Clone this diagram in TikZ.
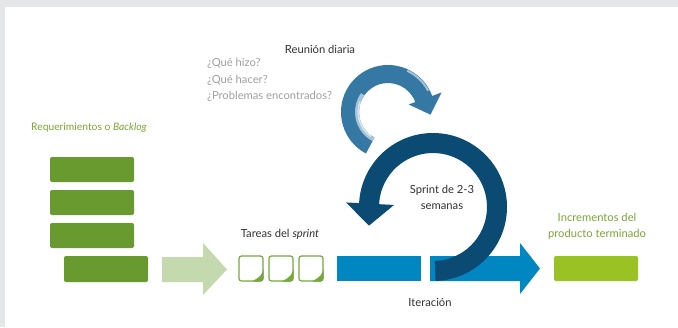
\documentclass[tikz,border=0pt]{standalone}
\usepackage{fontspec}
\setmainfont{Lato}
\usetikzlibrary{calc}
\definecolor{bordergray}{RGB}{229,230,232}
\definecolor{backloggreen}{RGB}{104,154,48}
\definecolor{labelgreen}{RGB}{122,166,52}
\definecolor{palegreen}{RGB}{197,217,174}
\definecolor{notegreen}{RGB}{118,168,62}
\definecolor{sprintblue}{RGB}{0,134,193}
\definecolor{navy}{RGB}{11,74,115}
\definecolor{dailyblue}{RGB}{52,120,163}
\definecolor{dailylight}{RGB}{165,196,218}
\definecolor{lime}{RGB}{155,194,36}
\definecolor{textgray}{RGB}{50,50,50}
\definecolor{askgray}{RGB}{160,160,160}
\begin{document}
\begin{tikzpicture}[line cap=round,line join=round,x=1pt,y=-1pt,
	lbl/.style={text=textgray,font=\fontsize{11.2}{16}\selectfont,inner sep=0pt,align=center},
	ask/.style={text=askgray,font=\fontsize{11.2}{16}\selectfont,inner sep=0pt,anchor=west},
	greenlbl/.style={text=labelgreen,font=\fontsize{11.2}{16}\selectfont,inner sep=0pt,align=center},
	task/.style={fill=backloggreen,rounded corners=2pt},
	note/.style={draw=notegreen,line width=1.2pt,fill=white,rounded corners=2.5pt}]
		\useasboundingbox (0,0) rectangle (678,327);
		\fill[bordergray] (0,0) rectangle (678,327);
		\fill[white] (5,7) rectangle (678,327);
		% backlog
		\foreach \y in {157,190,223}
			\fill[task] (50,\y) rectangle ++(84,25);
		\fill[task] (64,256) rectangle (148,282);
		\fill[palegreen] (162,257) -- (203,257) -- (203,243) -- (227,269.5) -- (203,295) -- (203,282) -- (162,282) -- cycle;
		% tareas
		\foreach \x in {239,269,299} {
			\draw[note] (\x,256) rectangle ++(24,25);
			\fill[notegreen] (\x+24.6,269) .. controls (\x+22,276) .. (\x+13,281.6) -- (\x+22,281.6) -- (\x+24.6,279) -- cycle;
		}
		\fill[sprintblue] (337,256) rectangle (421,281);
		\fill[sprintblue] (430,256) -- (520,256) -- (520,243) -- (540,268.5) -- (520,294) -- (520,281) -- (430,281) -- cycle;
		\fill[lime,rounded corners=2pt] (554,256) rectangle (638,281);
		% reunion diaria
		\coordinate (daily) at (388,112);
		\fill[dailyblue] ($(daily)+(118:47)$) arc[start angle=118,end angle=340,radius=47]
			-- ($(daily)+(340:57)$) -- ($(daily)+(340:39)+(70:17)$) -- ($(daily)+(340:22)$)
			-- ($(daily)+(340:29)$) arc[start angle=340,end angle=118,radius=29] -- cycle;
		\draw[dailylight,line width=4pt,line cap=butt] ($(daily)+(118:31)$) arc[start angle=118,end angle=215,radius=31];
		\draw[white!60!dailylight,line width=1.5pt,line cap=butt] ($(daily)+(125:29.8)$) arc[start angle=125,end angle=200,radius=29.8];
		\draw[dailylight,line width=2pt,line cap=butt] ($(daily)+(295:45.5)$) arc[start angle=295,end angle=332,radius=45.5];
		% sprint
		\coordinate (sprint) at (433,207);
		\fill[navy] ($(sprint)+(88:74)$) arc[start angle=88,end angle=-177,radius=74]
			-- ($(sprint)+(-177:87)$) -- ($(sprint)+(-177:63)+(-267:22)$) -- ($(sprint)+(-177:39)$)
			-- ($(sprint)+(-177:54)$) arc[start angle=-177,end angle=88,radius=54] -- cycle;
		% labels
		\node[lbl] (reunion) at (320,49) {Reunión diaria};
		\node[ask] (hizo) at (207,63) {¿Qué hizo?};
		\node[ask] (hacer) at (207,80) {¿Qué hacer?};
		\node[ask] (problemas) at (207,96) {¿Problemas encontrados?};
		\node[greenlbl,anchor=west,font=\fontsize{10.3}{16}\selectfont] (backlog) at (31,128) {Requerimientos o \textit{Backlog}};
		\node[lbl] (tareas) at (280,234) {Tareas del \textit{sprint}};
		\node[lbl] (duracion) at (442,197) {Sprint de 2-3\\semanas};
		\node[lbl] (iteracion) at (430,302) {Iteración};
		\node[greenlbl] (incrementos) at (597,226) {Incrementos del\\producto terminado};
\end{tikzpicture}
\end{document}
